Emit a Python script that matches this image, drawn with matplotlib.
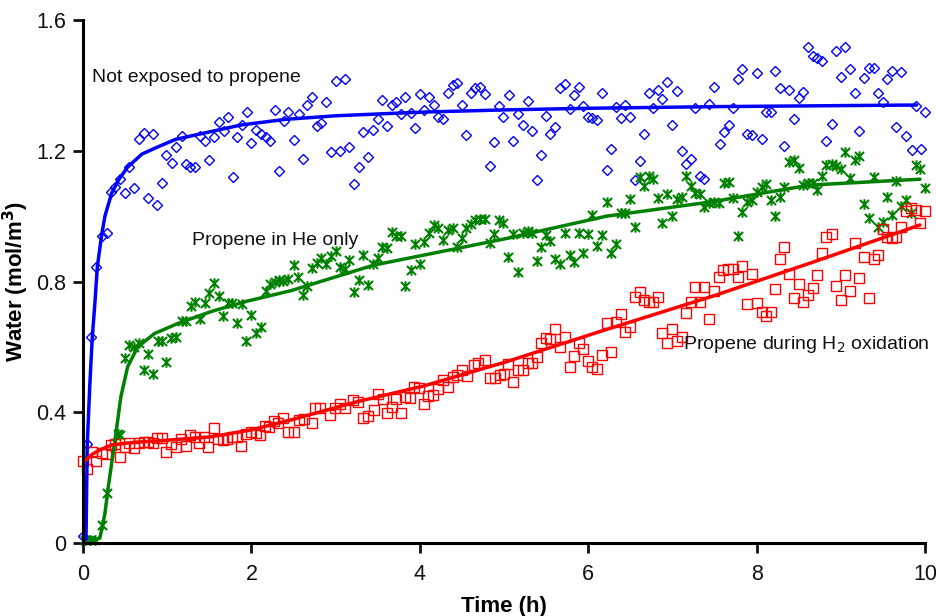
import numpy as np
import matplotlib
matplotlib.use('Agg')
import matplotlib.pyplot as plt
from matplotlib.path import Path

plt.rcParams['font.family'] = ['Liberation Sans', 'DejaVu Sans']

# ---- measured points: Not exposed to propene (blue diamonds)
blue_t = [0.00, 0.05, 0.10, 0.16, 0.22, 0.28, 0.33, 0.38, 0.44, 0.50, 0.55, 0.61, 0.67, 0.72, 0.77, 0.83,
          0.88, 0.94, 0.99, 1.06, 1.11, 1.17, 1.22, 1.27, 1.33, 1.39, 1.45, 1.50, 1.55, 1.61, 1.67, 1.72,
          1.78, 1.83, 1.89, 1.95, 2.00, 2.06, 2.11, 2.17, 2.22, 2.28, 2.33, 2.39, 2.44, 2.50,
          2.56, 2.61, 2.66, 2.72, 2.78, 2.83, 2.89, 2.94, 3.00, 3.05, 3.11, 3.16, 3.22, 3.28, 3.33, 3.39,
          3.44, 3.50, 3.55, 3.61, 3.67, 3.72, 3.78, 3.83, 3.89, 3.94, 4.00, 4.05, 4.11, 4.17, 4.22, 4.28,
          4.33, 4.39, 4.44, 4.50, 4.55, 4.61, 4.66, 4.72, 4.77, 4.83, 4.88, 4.94, 4.99,
          5.06, 5.11, 5.17, 5.22, 5.28, 5.33, 5.39, 5.44, 5.50, 5.55, 5.61, 5.66, 5.72, 5.78, 5.83, 5.89,
          5.94, 6.00, 6.05, 6.11, 6.16, 6.22, 6.27, 6.33, 6.39, 6.44, 6.50, 6.55, 6.61, 6.66, 6.72, 6.77,
          6.83, 6.88, 6.94, 7.00, 7.05, 7.11, 7.16, 7.22, 7.27, 7.33, 7.38, 7.44, 7.49,
          7.56, 7.61, 7.67, 7.72, 7.78, 7.83, 7.89, 7.95, 8.00, 8.06, 8.11, 8.17, 8.22, 8.28, 8.33, 8.39,
          8.44, 8.50, 8.55, 8.61, 8.67, 8.72, 8.78, 8.83, 8.89, 8.94, 9.00, 9.05, 9.11, 9.17, 9.22, 9.28,
          9.33, 9.39, 9.44, 9.50, 9.55, 9.61, 9.66, 9.72, 9.78, 9.84, 9.89, 9.95, 10.00]
blue_w = [0.021, 0.302, 0.629, 0.843, 0.940, 0.947, 1.074, 1.090, 1.113, 1.070, 1.149, 1.086, 1.237, 1.253, 1.056, 1.251,
          1.034, 1.100, 1.187, 1.163, 1.210, 1.246, 1.159, 1.151, 1.149, 1.245, 1.231, 1.172, 1.243, 1.287, 1.261, 1.304,
          1.119, 1.241, 1.279, 1.318, 1.223, 1.265, 1.251, 1.241, 1.230, 1.325, 1.138, 1.292, 1.318, 1.233,
          1.314, 1.174, 1.340, 1.363, 1.276, 1.284, 1.348, 1.197, 1.412, 1.198, 1.421, 1.212, 1.098, 1.151, 1.256, 1.182,
          1.264, 1.298, 1.355, 1.276, 1.340, 1.348, 1.314, 1.365, 1.316, 1.269, 1.374, 1.325, 1.365, 1.340, 1.302, 1.296,
          1.378, 1.401, 1.406, 1.340, 1.248, 1.376, 1.391, 1.394, 1.373, 1.153, 1.227, 1.338, 1.304,
          1.370, 1.229, 1.314, 1.280, 1.351, 1.262, 1.110, 1.187, 1.305, 1.252, 1.274, 1.392, 1.404, 1.327, 1.371, 1.394,
          1.338, 1.302, 1.301, 1.294, 1.377, 1.141, 1.206, 1.333, 1.299, 1.340, 1.304, 1.111, 1.169, 1.251, 1.376, 1.330,
          1.386, 1.359, 1.410, 1.280, 1.383, 1.200, 1.159, 1.176, 1.332, 1.123, 1.114, 1.342, 1.394,
          1.221, 1.258, 1.279, 1.330, 1.420, 1.451, 1.251, 1.248, 1.439, 1.235, 1.318, 1.320, 1.445, 1.391, 1.215, 1.386,
          1.296, 1.362, 1.381, 1.516, 1.490, 1.484, 1.474, 1.230, 1.282, 1.505, 1.426, 1.516, 1.449, 1.376, 1.261, 1.424,
          1.454, 1.453, 1.376, 1.350, 1.419, 1.444, 1.272, 1.440, 1.245, 1.202, 1.337, 1.205, 1.318]

# ---- Propene in He only (green stars)
green_t = [0.02, 0.08, 0.14, 0.22, 0.28, 0.41, 0.44, 0.50, 0.55, 0.60, 0.66, 0.72, 0.77, 0.83, 0.89, 0.94,
           0.99, 1.05, 1.11, 1.17, 1.22, 1.28, 1.33, 1.39, 1.45, 1.50, 1.55, 1.61, 1.66, 1.72, 1.77, 1.83,
           1.89, 1.94, 2.00, 2.05, 2.11, 2.17, 2.22, 2.28, 2.33, 2.38, 2.43, 2.50,
           2.55, 2.61, 2.66, 2.72, 2.78, 2.83, 2.89, 2.94, 3.00, 3.05, 3.11, 3.16, 3.22, 3.28, 3.33, 3.39,
           3.44, 3.50, 3.55, 3.61, 3.67, 3.72, 3.78, 3.83, 3.89, 3.94, 4.00, 4.05, 4.11, 4.17, 4.22, 4.28,
           4.33, 4.39, 4.44, 4.50, 4.55, 4.61, 4.66, 4.72, 4.77, 4.83, 4.88, 4.94, 4.99,
           5.05, 5.11, 5.17, 5.22, 5.28, 5.33, 5.39, 5.44, 5.50, 5.55, 5.61, 5.66, 5.72, 5.78, 5.83, 5.89,
           5.94, 6.00, 6.05, 6.11, 6.16, 6.22, 6.27, 6.33, 6.39, 6.44, 6.50, 6.55, 6.61, 6.66, 6.72, 6.77,
           6.83, 6.88, 6.94, 7.00, 7.05, 7.11, 7.16, 7.22, 7.27, 7.33, 7.38, 7.44, 7.49,
           7.55, 7.61, 7.67, 7.72, 7.78, 7.83, 7.89, 7.95, 8.00, 8.06, 8.11, 8.17, 8.22, 8.28, 8.33, 8.39,
           8.44, 8.50, 8.55, 8.61, 8.67, 8.72, 8.78, 8.83, 8.89, 8.94, 9.00, 9.05, 9.11, 9.17, 9.22, 9.28,
           9.33, 9.39, 9.44, 9.50, 9.55, 9.61, 9.66, 9.72, 9.77, 9.83, 9.89, 9.94, 10.00]
green_w = [0.010, 0.010, 0.010, 0.055, 0.152, 0.333, 0.330, 0.565, 0.606, 0.600, 0.613, 0.529, 0.578, 0.517, 0.618, 0.618,
           0.555, 0.628, 0.631, 0.680, 0.680, 0.725, 0.736, 0.684, 0.733, 0.764, 0.796, 0.756, 0.694, 0.735, 0.735, 0.674,
           0.731, 0.618, 0.697, 0.641, 0.662, 0.771, 0.792, 0.800, 0.805, 0.803, 0.808, 0.850,
           0.815, 0.759, 0.786, 0.840, 0.857, 0.871, 0.853, 0.878, 0.894, 0.843, 0.837, 0.866, 0.767, 0.805, 0.880, 0.789,
           0.853, 0.871, 0.905, 0.901, 0.950, 0.940, 0.938, 0.786, 0.835, 0.915, 0.853, 0.920, 0.949, 0.973, 0.965, 0.927,
           0.957, 0.965, 0.906, 0.932, 0.965, 0.975, 0.988, 0.990, 0.990, 0.919, 0.945, 0.988, 0.978,
           0.874, 0.944, 0.830, 0.947, 0.954, 0.947, 0.863, 0.905, 0.941, 0.925, 0.870, 0.853, 0.949, 0.880, 0.860, 0.949,
           0.886, 0.944, 1.003, 0.909, 0.941, 1.042, 0.888, 0.915, 1.009, 1.010, 1.051, 0.966, 1.119, 1.092, 1.123, 1.113,
           1.054, 0.980, 1.068, 1.001, 1.051, 1.059, 1.123, 1.092, 1.070, 1.068, 1.029, 1.039, 1.044,
           1.041, 1.100, 1.103, 1.054, 0.940, 1.012, 1.044, 1.049, 1.075, 1.090, 1.098, 1.049, 1.000, 1.059, 1.090, 1.166,
           1.171, 1.148, 1.095, 1.100, 1.102, 1.080, 1.123, 1.156, 1.158, 1.153, 1.143, 1.197, 1.116, 1.171, 1.184, 1.037,
           0.995, 1.121, 0.966, 0.983, 1.058, 1.003, 1.108, 1.031, 1.049, 1.009, 1.156, 1.143, 1.085]

# ---- Propene during H2 oxidation (red squares)
red_t = [0.00, 0.05, 0.11, 0.16, 0.22, 0.27, 0.33, 0.38, 0.44, 0.50, 0.55, 0.61, 0.66, 0.72, 0.77, 0.83,
         0.88, 0.94, 0.99, 1.05, 1.10, 1.16, 1.22, 1.27, 1.33, 1.38, 1.44, 1.49, 1.55, 1.60, 1.66, 1.71,
         1.77, 1.83, 1.88, 1.94, 1.99, 2.05, 2.10, 2.16, 2.21, 2.27, 2.32, 2.38, 2.43, 2.50,
         2.56, 2.62, 2.72, 2.76, 2.81, 2.93, 2.99, 3.05, 3.11, 3.21, 3.27, 3.33, 3.39, 3.45, 3.50, 3.56,
         3.61, 3.67, 3.72, 3.78, 3.82, 3.88, 3.93, 3.99, 4.05, 4.10, 4.16, 4.22, 4.28, 4.33, 4.39, 4.44,
         4.50, 4.56, 4.64, 4.69, 4.77, 4.83, 4.89, 4.95,
         5.00, 5.05, 5.11, 5.17, 5.22, 5.28, 5.33, 5.39, 5.44, 5.50, 5.55, 5.61, 5.66, 5.72, 5.78, 5.83,
         5.89, 5.94, 6.00, 6.05, 6.11, 6.16, 6.22, 6.27, 6.33, 6.39, 6.44, 6.50, 6.55, 6.61, 6.66, 6.72,
         6.77, 6.83, 6.88, 6.94, 7.00, 7.05, 7.11, 7.16, 7.22, 7.27, 7.33, 7.38, 7.44, 7.49,
         7.55, 7.60, 7.66, 7.72, 7.78, 7.83, 7.89, 7.95, 8.00, 8.06, 8.11, 8.17, 8.22, 8.28, 8.33, 8.39,
         8.44, 8.50, 8.55, 8.61, 8.67, 8.72, 8.78, 8.83, 8.89, 8.94, 9.00, 9.05, 9.11, 9.17, 9.22, 9.28,
         9.33, 9.39, 9.44, 9.50, 9.55, 9.61, 9.66, 9.72, 9.77, 9.83, 9.89, 9.94, 10.00]
red_w = [0.251, 0.225, 0.279, 0.251, 0.274, 0.272, 0.299, 0.303, 0.264, 0.295, 0.307, 0.290, 0.305, 0.308, 0.310, 0.307,
         0.322, 0.322, 0.279, 0.303, 0.295, 0.317, 0.298, 0.330, 0.325, 0.307, 0.323, 0.295, 0.351, 0.317, 0.315, 0.317,
         0.323, 0.323, 0.298, 0.333, 0.339, 0.336, 0.330, 0.358, 0.354, 0.373, 0.368, 0.381, 0.339, 0.340,
         0.376, 0.378, 0.366, 0.412, 0.412, 0.392, 0.412, 0.425, 0.412, 0.437, 0.431, 0.381, 0.388, 0.407, 0.456, 0.440,
         0.397, 0.417, 0.440, 0.397, 0.448, 0.443, 0.476, 0.473, 0.425, 0.450, 0.453, 0.470, 0.499, 0.476, 0.509, 0.514,
         0.529, 0.512, 0.545, 0.550, 0.560, 0.504, 0.504, 0.514,
         0.517, 0.548, 0.493, 0.529, 0.529, 0.550, 0.552, 0.570, 0.613, 0.626, 0.623, 0.655, 0.600, 0.629, 0.539, 0.572,
         0.613, 0.593, 0.557, 0.539, 0.532, 0.575, 0.672, 0.585, 0.677, 0.700, 0.646, 0.662, 0.753, 0.769, 0.743, 0.738,
         0.738, 0.753, 0.643, 0.611, 0.654, 0.619, 0.631, 0.704, 0.738, 0.784, 0.736, 0.784, 0.685, 0.772,
         0.813, 0.835, 0.837, 0.837, 0.815, 0.848, 0.731, 0.823, 0.735, 0.708, 0.695, 0.708, 0.776, 0.868, 0.905, 0.823,
         0.750, 0.792, 0.738, 0.759, 0.779, 0.821, 0.888, 0.935, 0.944, 0.786, 0.743, 0.820, 0.772, 0.919, 0.810, 0.874,
         0.749, 0.870, 0.880, 0.960, 0.935, 0.932, 0.935, 0.968, 1.017, 1.024, 1.019, 0.978, 1.017]

# ---- fitted model curves
blue_fit_t = [0.035, 0.05, 0.08, 0.11, 0.14, 0.17, 0.22, 0.26, 0.34, 0.42, 0.53, 0.70, 0.89, 1.10, 1.33,
              1.88, 2.40, 3.00, 4.00, 5.00, 6.00, 7.50, 9.90]
blue_fit_w = [0.005, 0.30, 0.48, 0.63, 0.73, 0.845, 0.94, 1.00, 1.07, 1.11, 1.15, 1.19, 1.212, 1.235, 1.248,
              1.279, 1.296, 1.307, 1.318, 1.325, 1.330, 1.335, 1.340]
green_fit_t = [0.0, 0.10, 0.20, 0.26, 0.30, 0.38, 0.45, 0.53, 0.65, 0.85, 1.13, 1.52, 1.92, 2.47, 3.45,
               4.44, 5.00, 6.22, 7.47, 8.63, 9.94]
green_fit_w = [0.0, 0.005, 0.015, 0.09, 0.172, 0.315, 0.448, 0.539, 0.600, 0.641, 0.672, 0.708, 0.738, 0.772,
               0.850, 0.901, 0.930, 1.000, 1.044, 1.095, 1.113]
red_fit_t = [0.0, 0.10, 0.20, 0.34, 0.60, 0.93, 1.52, 2.00, 2.49, 3.25, 4.04, 5.01, 6.20, 7.50, 8.70, 9.94]
red_fit_w = [0.245, 0.270, 0.285, 0.300, 0.308, 0.313, 0.325, 0.346, 0.378, 0.432, 0.480, 0.553, 0.652,
             0.757, 0.862, 0.973]

x_ticks = [0, 2, 4, 6, 8, 10]
y_ticks = [0, 0.4, 0.8, 1.2, 1.6]

# star marker like the spreadsheet one: an x with a vertical bar
star = Path([(-1, -1), (1, 1), (-1, 1), (1, -1), (0, -1.15), (0, 1.15)],
            [Path.MOVETO, Path.LINETO, Path.MOVETO, Path.LINETO, Path.MOVETO, Path.LINETO])

fig = plt.figure(figsize=(9.37, 6.16), dpi=100)
ax = fig.add_axes([0.0886, 0.1185, 0.8986, 0.849])

ax.plot(blue_t, blue_w, linestyle='none', marker='D', markersize=5, markerfacecolor='none',
        markeredgecolor='#0000ff', markeredgewidth=1.0, clip_on=False)
ax.plot(green_t, green_w, linestyle='none', marker=star, markersize=7.5, markerfacecolor='none',
        markeredgecolor='#008000', markeredgewidth=1.5, clip_on=False)
ax.plot(red_t, red_w, linestyle='none', marker='s', markersize=6.5, markerfacecolor='none',
        markeredgecolor='#ff0000', markeredgewidth=1.0, clip_on=False)

ax.plot(blue_fit_t, blue_fit_w, color='#0000ff', lw=2.5, solid_capstyle='round')
ax.plot(green_fit_t, green_fit_w, color='#008000', lw=2.5, solid_capstyle='round')
ax.plot(red_fit_t, red_fit_w, color='#ff0000', lw=2.5, solid_capstyle='round')

ax.text(0.107, 1.425, 'Not exposed to propene', fontsize=14, va='center', ha='left', color='#111111')
ax.text(1.29, 0.927, 'Propene in He only', fontsize=14, va='center', ha='left', color='#111111')
ax.text(7.13, 0.606, 'Propene during H$_2$ oxidation', fontsize=14, va='center', ha='left', color='#111111')

ax.set_xlim(0, 10)
ax.set_ylim(0, 1.6)
ax.set_xticks(x_ticks)
ax.set_yticks(y_ticks)
ax.set_xticklabels([str(v) for v in x_ticks])
ax.set_yticklabels(['%g' % v for v in y_ticks])
for s in ['top', 'right']:
    ax.spines[s].set_visible(False)
for s in ['left', 'bottom']:
    ax.spines[s].set_linewidth(2.2)
ax.tick_params(direction='out', length=7, width=2, labelsize=15.5, colors='#111111')
ax.tick_params(axis='x', pad=8)
ax.tick_params(axis='y', pad=5)

ax.set_xlabel('Time (h)', fontsize=16, fontweight='bold', labelpad=8)
ax.set_ylabel('Water (mol/m$\\mathbf{^3}$)', fontsize=16, fontweight='bold', labelpad=4)

fig.savefig('out.png', dpi=100)
